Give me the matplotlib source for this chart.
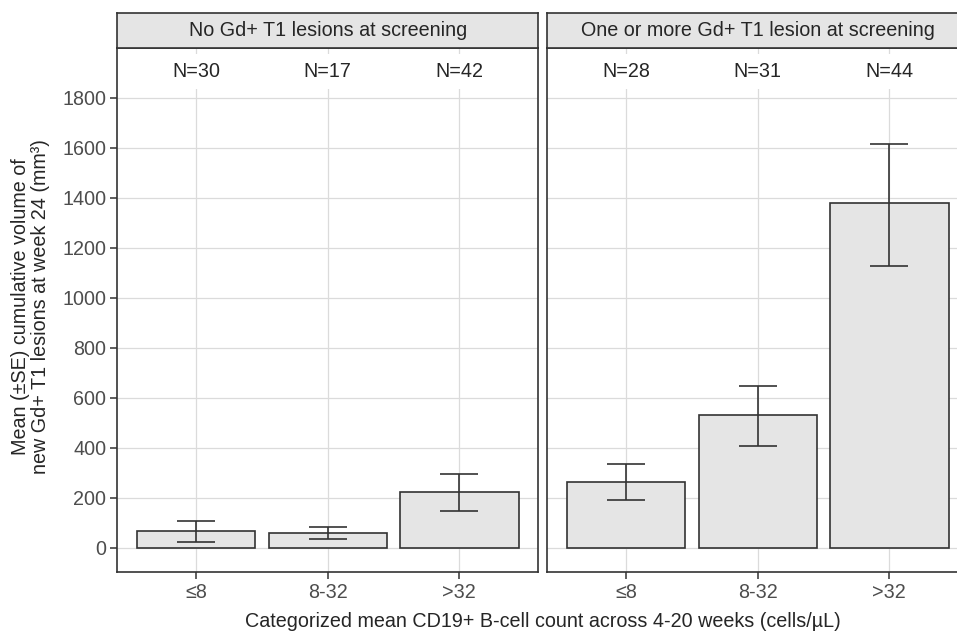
import numpy as np
import matplotlib.pyplot as plt

plt.rcParams['font.family'] = ['Liberation Sans', 'DejaVu Sans']

# data
categories = ['≤8', '8-32', '>32']
panel_titles = ['No Gd+ T1 lesions at screening',
                'One or more Gd+ T1 lesion at screening']
n_none = [30, 17, 42]
n_some = [28, 31, 44]
mean_none = [65, 59, 222]
mean_some = [263, 530, 1381]
lo_none = [23, 34, 148]
hi_none = [108, 83, 294]
lo_some = [190, 408, 1129]
hi_some = [336, 647, 1617]

# styling
dark = '#333333'
grid_col = '#DBDBDB'
bar_fill = '#E5E5E5'
text_col = '#4D4D4D'
fs = 14.2
label_y = 1904

W, H = 957, 631
fig = plt.figure(figsize=(W / 100, H / 100), dpi=100)

panel_top = 48.3
panel_bot = 571.7
panel_w = 421
lefts = [117.3, 547.3]
strip_top = 12.7

panels = [(n_none, mean_none, lo_none, hi_none),
          (n_some, mean_some, lo_some, hi_some)]

x = np.arange(len(categories))
for i, (ns, means, lo, hi) in enumerate(panels):
    ax = fig.add_axes([lefts[i] / W, 1 - panel_bot / H,
                       panel_w / W, (panel_bot - panel_top) / H])
    ax.set_xlim(-0.6, len(categories) - 0.4)
    ax.set_ylim(-96, 1998)
    ax.set_yticks(np.arange(0, 1801, 200))
    ax.set_xticks(x)
    ax.set_xticklabels(categories)
    ax.grid(True, color=grid_col, linewidth=0.9, zorder=0)
    ax.set_axisbelow(True)
    ax.bar(x, means, width=0.9, color=bar_fill, edgecolor=dark,
           linewidth=1.2, zorder=2)
    means = np.array(means)
    yerr = [means - np.array(lo), np.array(hi) - means]
    ax.errorbar(x, means, yerr=yerr, fmt='none', ecolor=dark,
                elinewidth=1.2, capsize=13.8, capthick=1.2, zorder=3)
    for xi, n in zip(x, ns):
        ax.text(xi, label_y, f'N={n}', ha='center', va='center',
                fontsize=fs, color='#262626', zorder=4,
                bbox=dict(boxstyle='square,pad=0.4', facecolor='white',
                          edgecolor='none'))
    for sp in ax.spines.values():
        sp.set_color(dark)
        sp.set_linewidth(1.2)
    ax.tick_params(axis='x', length=5, width=1.1, color=dark,
                   labelsize=fs, labelcolor=text_col, pad=3)
    if i == 0:
        ax.tick_params(axis='y', length=5, width=1.1, color=dark,
                       labelsize=fs, labelcolor=text_col, pad=3)
    else:
        ax.tick_params(axis='y', length=0, labelleft=False)

    # facet strip
    sx = fig.add_axes([lefts[i] / W, 1 - panel_top / H,
                       panel_w / W, (panel_top - strip_top) / H])
    sx.set_facecolor(bar_fill)
    sx.set_xticks([])
    sx.set_yticks([])
    for sp in sx.spines.values():
        sp.set_color(dark)
        sp.set_linewidth(1.2)
    sx.text(0.5, 0.5, panel_titles[i], transform=sx.transAxes,
            ha='center', va='center', fontsize=fs, color='#262626')

fig.text(542.8 / W, 1 - 621.7 / H,
         'Categorized mean CD19+ B-cell count across 4-20 weeks (cells/µL)',
         ha='center', va='center', fontsize=fs, color='#262626')
fig.text(30.5 / W, 1 - 307 / H,
         'Mean (±SE) cumulative volume of\nnew Gd+ T1 lesions at week 24 (mm³)',
         ha='center', va='center', rotation=90, fontsize=fs,
         color='#262626', linespacing=1.1)

fig.savefig('out.png', dpi=100)
